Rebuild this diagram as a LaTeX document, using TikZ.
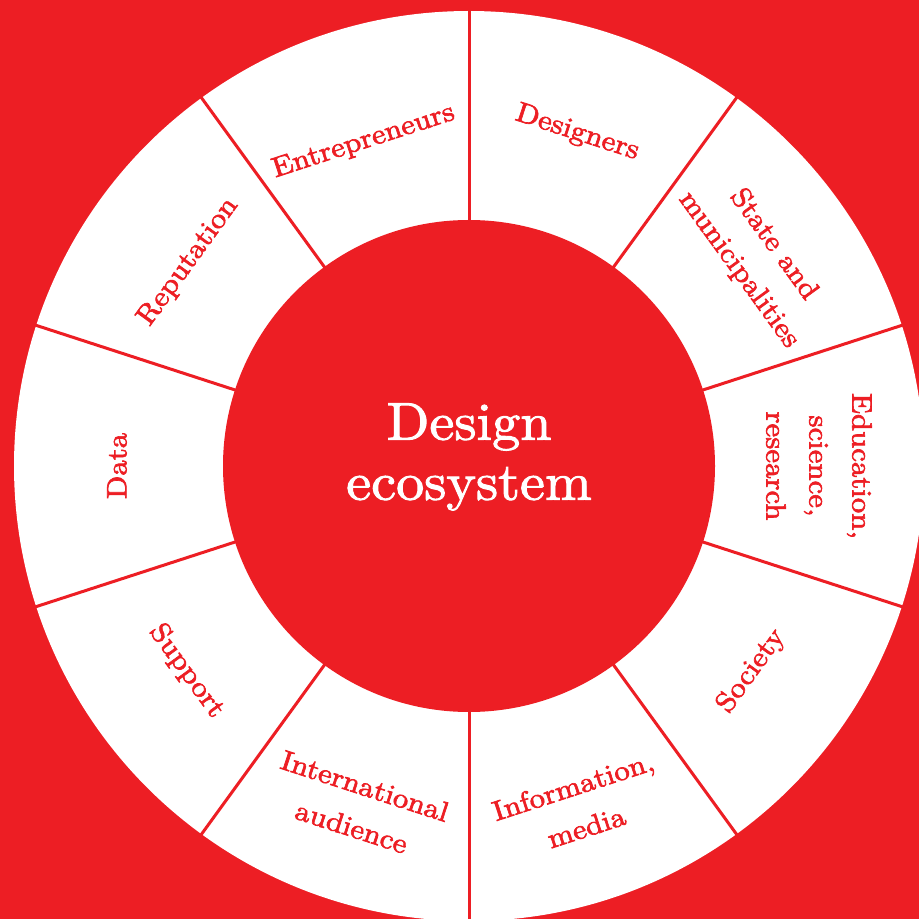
\documentclass[tikz,border=0pt]{standalone}
\usepackage{fontspec}
\usetikzlibrary{calc}
\newfontfamily\labfont{lmroman10-regular.otf}[FakeBold=2.3, FakeStretch=1.1]
\newfontfamily\ctrfont{lmroman10-regular.otf}[FakeBold=1.8, FakeStretch=1.06]
\definecolor{ered}{RGB}{237,30,36}
\tikzset{
  lab/.style={text=ered, align=center, inner sep=0pt, font=\labfont\fontsize{28}{43}\selectfont},
  ctr/.style={text=white, align=center, inner sep=0pt, font=\ctrfont\fontsize{53}{60}\selectfont},
  sep/.style={draw=ered, line width=3pt}
}
\begin{document}
\begin{tikzpicture}[x=1pt,y=1pt]
\fill[ered] (0,0) rectangle (919,919);
\useasboundingbox (0,0) rectangle (919,919);
\coordinate (C) at (469,453);
\fill[white] (C) circle[radius=455];
\foreach \a in {90,54,18,-18,-54,-90,-126,-162,162,126}{
  \draw[sep] ($(C)+(\a:240)$) -- ($(C)+(\a:470)$);
}
\fill[ered] (C) circle[radius=246];
\node[ctr] (title) at ($(C)+(0,9)$) {Design\\ecosystem};
% labels
\node[lab, rotate=18] (l1) at ($(C)+(108:341)$) {Entrepreneurs};
\node[lab, rotate=-18] (l2) at ($(C)+(72:350)$) {Designers};
\node[lab, rotate=-54] (l3) at ($(C)+(36:355)$) {State and\\municipalities};
\node[lab, rotate=-90] (l4) at ($(C)+(0:350)$) {Education,\\science,\\research};
\node[lab, rotate=54] (l5) at ($(C)+(-36:349)$) {Society};
\node[lab, rotate=18] (l6) at ($(C)+(-72:358)$) {Information,\\media};
\node[lab, rotate=-18] (l7) at ($(C)+(-108:358)$) {International\\audience};
\node[lab, rotate=-54] (l8) at ($(C)+(-144:349)$) {Support};
\node[lab, rotate=90] (l9) at ($(C)+(180:352)$) {Data};
\node[lab, rotate=54] (l10) at ($(C)+(144:347)$) {Reputation};
\end{tikzpicture}
\end{document}
